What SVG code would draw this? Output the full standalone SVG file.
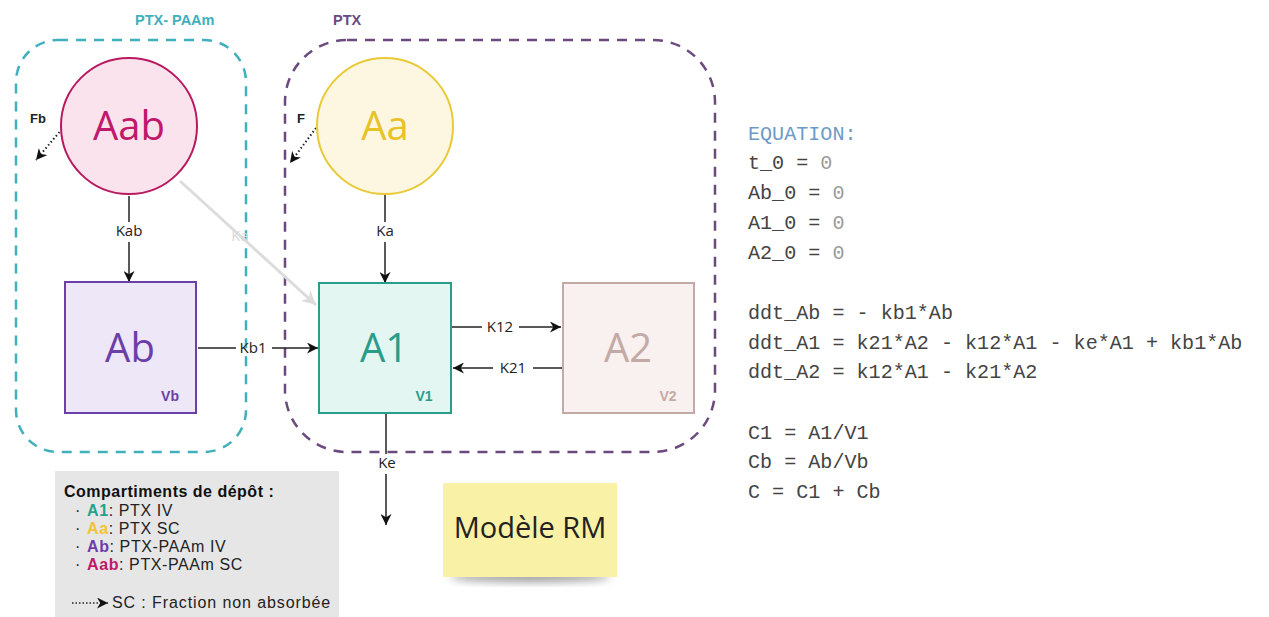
<svg xmlns="http://www.w3.org/2000/svg" width="1269" height="617" viewBox="0 0 1269 617">
<style>
.lbl{font-family:"Open Sans","DejaVu Sans",sans-serif;font-size:15px;fill:#222;text-anchor:middle}
.big{font-family:"Open Sans","DejaVu Sans",sans-serif;font-size:40px;text-anchor:middle}
.vol{font-family:"Liberation Sans",Arial,sans-serif;font-size:14px;font-weight:bold;text-anchor:middle}
.hdr{font-family:"Liberation Sans",Arial,sans-serif;font-size:14.5px;font-weight:bold}
.leg{font-family:"Liberation Sans",Arial,sans-serif;font-size:16px;fill:#222;letter-spacing:0.6px}
.eq{font-family:"Liberation Mono","Courier New",monospace;font-size:20.1px;fill:#444}
.n{fill:#9a9a9a}
.conn{stroke:#222;stroke-width:1.5;fill:none}
.dot{stroke:#222;stroke-width:2;stroke-dasharray:1.5 2.5;fill:none}
</style>
<defs>
<marker id="ah2" viewBox="0 0 10 10" refX="10" refY="5" markerWidth="11" markerHeight="11" markerUnits="userSpaceOnUse" orient="auto"><path d="M0,0 L10,5 L0,10 L3,5 z" fill="#111"/></marker>
<marker id="ahg" viewBox="0 0 10 10" refX="10" refY="5" markerWidth="14" markerHeight="14" markerUnits="userSpaceOnUse" orient="auto"><path d="M0,0 L10,5 L0,10 L3,5 z" fill="#dcdcdc"/></marker>
<filter id="sh" x="-20%" y="-50%" width="140%" height="200%"><feGaussianBlur stdDeviation="4"/></filter>
</defs>
<rect width="1269" height="617" fill="#fff"/>

<g id="group-ptx-paam">
<rect x="16" y="40" width="230" height="412" rx="42" fill="none" stroke="#3fb0bc" stroke-width="2.5" stroke-dasharray="10 8"/>
<text class="hdr" x="135" y="25" fill="#3fb0bc">PTX- PAAm</text>
</g>
<g id="group-ptx">
<rect x="285" y="40" width="430" height="412" rx="62" fill="none" stroke="#6b4a7e" stroke-width="2.5" stroke-dasharray="10 8"/>
<text class="hdr" x="333" y="25" fill="#6b4a7e">PTX</text>
</g>

<g id="connectors">
<line x1="180" y1="181" x2="316" y2="305" stroke="#dcdcdc" stroke-width="3" marker-end="url(#ahg)"/>
<text class="lbl" x="240" y="241" style="fill:#d8d8d8">Ka</text>
<line class="conn" x1="129" y1="196" x2="129" y2="222"/>
<text class="lbl" x="129" y="236">Kab</text>
<line class="conn" x1="129" y1="242" x2="129" y2="282" marker-end="url(#ah2)"/>
<line class="conn" x1="385" y1="195" x2="385" y2="222"/>
<text class="lbl" x="385" y="236">Ka</text>
<line class="conn" x1="385" y1="242" x2="385" y2="283" marker-end="url(#ah2)"/>
<line class="conn" x1="198" y1="348" x2="236" y2="348"/>
<text class="lbl" x="253" y="353">Kb1</text>
<line class="conn" x1="272" y1="348" x2="318" y2="348" marker-end="url(#ah2)"/>
<line class="conn" x1="452" y1="327" x2="482" y2="327"/>
<text class="lbl" x="500" y="332">K12</text>
<line class="conn" x1="519" y1="327" x2="561" y2="327" marker-end="url(#ah2)"/>
<line class="conn" x1="562" y1="368" x2="533" y2="368"/>
<text class="lbl" x="513" y="373">K21</text>
<line class="conn" x1="493" y1="368" x2="453" y2="368" marker-end="url(#ah2)"/>
<line class="conn" x1="386" y1="414" x2="386" y2="454"/>
<text class="lbl" x="387" y="468">Ke</text>
<line class="conn" x1="386" y1="474" x2="386" y2="525" marker-end="url(#ah2)"/>
<line class="dot" x1="62" y1="129" x2="36" y2="160" marker-end="url(#ah2)"/>
<text class="hdr" x="30" y="123" fill="#222" style="font-size:13px">Fb</text>
<line class="dot" x1="316" y1="128" x2="290" y2="163" marker-end="url(#ah2)"/>
<text class="hdr" x="297" y="123" fill="#222" style="font-size:13px">F</text>
</g>

<g id="node-Aab">
<circle cx="129" cy="126" r="68" fill="#fbe3ee" stroke="#b8195f" stroke-width="2"/>
<text class="big" x="129" y="140" fill="#c0186a">Aab</text>
</g>
<g id="node-Aa">
<circle cx="385" cy="126" r="68" fill="#fdf6e1" stroke="#e9c936" stroke-width="2"/>
<text class="big" x="385" y="140" fill="#e9c22a">Aa</text>
</g>
<g id="node-Ab">
<rect x="65" y="282" width="131" height="131" fill="#eee7f7" stroke="#6a3fa8" stroke-width="2"/>
<text class="big" x="130" y="362" fill="#6a3fa8">Ab</text>
<text class="vol" x="170" y="401" fill="#6a3fa8">Vb</text>
</g>
<g id="node-A1">
<rect x="319" y="283" width="132" height="130" fill="#e3f6f2" stroke="#2a9d8a" stroke-width="2"/>
<text class="big" x="384" y="362" fill="#2a9d8a">A1</text>
<text class="vol" x="424" y="401" fill="#2a9d8a">V1</text>
</g>
<g id="node-A2">
<rect x="563" y="283" width="131" height="130" fill="#f9f1ef" stroke="#c4aaa6" stroke-width="2"/>
<text class="big" x="628" y="362" fill="#c4aaa6">A2</text>
<text class="vol" x="668" y="401" fill="#c4aaa6">V2</text>
</g>

<g id="legend">
<rect x="55" y="471" width="284" height="150" fill="#e6e6e6"/>
<text class="hdr" x="64" y="497" fill="#111" style="font-size:16px;letter-spacing:0.5px">Compartiments de dépôt :</text>
<text class="leg" x="75" y="516">·</text><text class="leg" x="87" y="516"><tspan font-weight="bold" fill="#1fa38a">A1</tspan>: PTX IV</text>
<text class="leg" x="75" y="534">·</text><text class="leg" x="87" y="534"><tspan font-weight="bold" fill="#f2c431">Aa</tspan>: PTX SC</text>
<text class="leg" x="75" y="552">·</text><text class="leg" x="87" y="552"><tspan font-weight="bold" fill="#6a3fa8">Ab</tspan>: PTX-PAAm IV</text>
<text class="leg" x="75" y="570">·</text><text class="leg" x="87" y="570"><tspan font-weight="bold" fill="#c0186a">Aab</tspan>: PTX-PAAm SC</text>
<line x1="72" y1="603" x2="108" y2="603" stroke="#222" stroke-width="1.5" stroke-dasharray="1.5 2" marker-end="url(#ah2)"/>
<text class="leg" x="112" y="608" style="letter-spacing:0.9px">SC : Fraction non absorbée</text>
</g>

<g id="note">
<ellipse cx="530" cy="577" rx="80" ry="5" fill="#999" filter="url(#sh)"/>
<rect x="443" y="483" width="174" height="94" fill="#f9f1a5"/>
<text x="530" y="538" text-anchor="middle" font-family="Open Sans, sans-serif" font-size="29" fill="#222">Modèle RM</text>
</g>

<g id="equations">
<text class="eq" x="748" y="140" style="fill:#6b9ac8">EQUATION:</text>
<text class="eq" x="748" y="169">t_0 = <tspan class="n">0</tspan></text>
<text class="eq" x="748" y="199">Ab_0 = <tspan class="n">0</tspan></text>
<text class="eq" x="748" y="229">A1_0 = <tspan class="n">0</tspan></text>
<text class="eq" x="748" y="259">A2_0 = <tspan class="n">0</tspan></text>
<text class="eq" x="748" y="319">ddt_Ab = - kb1*Ab</text>
<text class="eq" x="748" y="349">ddt_A1 = k21*A2 - k12*A1 - ke*A1 + kb1*Ab</text>
<text class="eq" x="748" y="378">ddt_A2 = k12*A1 - k21*A2</text>
<text class="eq" x="748" y="439">C1 = A1/V1</text>
<text class="eq" x="748" y="468">Cb = Ab/Vb</text>
<text class="eq" x="748" y="498">C = C1 + Cb</text>
</g>
</svg>
